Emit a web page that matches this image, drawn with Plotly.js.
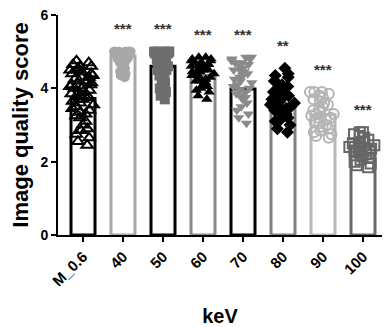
<!DOCTYPE html>
<html>
<head>
<meta charset="utf-8">
<script src="https://cdn.plot.ly/plotly-3.0.1.min.js"></script>
<style>html,body{margin:0;padding:0;background:#fff;}#chart{width:384px;height:327px;}</style>
</head>
<body>
<div id="chart"></div>
<script>
// ---- data ----
const categories = ['M_0.6', '40', '50', '60', '70', '80', '90', '100'];
const barMeans = [3.72, 4.88, 4.6, 4.35, 3.98, 3.58, 3.28, 2.42];
const sigLabels = ['', '***', '***', '***', '***', '**', '***', '***'];

const ptsM06 = [4.75,4.7,4.65,4.6,4.6,4.55,4.5,4.5,4.45,4.4,4.4,4.35,4.3,4.3,4.25,4.2,4.2,4.15,4.1,4.1,4.05,4.0,4.0,3.95,3.9,3.9,3.85,3.8,3.8,3.75,3.7,3.7,3.65,3.6,3.55,3.5,3.45,3.4,3.35,3.3,3.25,3.2,3.1,3.0,2.9,2.85,2.75,2.65,2.55,2.45];
const pts40 = [5.0,5.0,5.0,5.0,5.0,5.0,5.0,5.0,4.97,4.97,4.95,4.95,4.93,4.93,4.9,4.9,4.9,4.88,4.87,4.85,4.85,4.83,4.8,4.8,4.78,4.75,4.72,4.7,4.68,4.65,4.6,4.55,4.5,4.45,4.4,4.35,4.3];
const pts50 = [5.0,5.0,5.0,5.0,5.0,5.0,4.95,4.95,4.9,4.9,4.9,4.85,4.85,4.8,4.8,4.75,4.75,4.7,4.7,4.65,4.6,4.6,4.55,4.5,4.5,4.45,4.4,4.35,4.3,4.25,4.2,4.15,4.1,4.0,3.9,3.8,3.7];
const pts60 = [4.85,4.85,4.8,4.8,4.75,4.75,4.7,4.7,4.65,4.65,4.6,4.6,4.55,4.55,4.5,4.5,4.5,4.45,4.45,4.4,4.4,4.35,4.3,4.3,4.25,4.2,4.2,4.15,4.1,4.05,4.0,3.95,3.9,3.8,3.7];
const pts70 = [4.85,4.85,4.8,4.8,4.75,4.7,4.7,4.65,4.6,4.55,4.5,4.5,4.45,4.4,4.35,4.3,4.25,4.2,4.15,4.1,4.05,4.0,3.95,3.9,3.85,3.8,3.75,3.7,3.6,3.5,3.4,3.3,3.2,3.05];
const pts80 = [4.55,4.4,4.35,4.3,4.2,4.15,4.1,4.05,4.0,3.95,3.9,3.85,3.8,3.8,3.75,3.7,3.7,3.65,3.6,3.6,3.55,3.5,3.5,3.45,3.4,3.35,3.3,3.25,3.2,3.15,3.1,3.0,2.9,2.8];
const pts90 = [3.9,3.9,3.9,3.85,3.8,3.75,3.7,3.65,3.6,3.55,3.5,3.45,3.4,3.35,3.3,3.3,3.25,3.2,3.2,3.15,3.1,3.05,3.0,2.95,2.9,2.85,2.8,2.75,2.7,2.65];
const pts100 = [2.8,2.8,2.75,2.7,2.65,2.6,2.55,2.5,2.5,2.45,2.45,2.4,2.4,2.35,2.35,2.3,2.3,2.25,2.2,2.15,2.1,2.05,2.0,1.95,1.9,1.85];

// ---- styling ----
const points = [ptsM06, pts40, pts50, pts60, pts70, pts80, pts90, pts100];
const barLineColors = ['#000000','#a8a8a8','#000000','#8a8a8a','#000000','#808080','#b8b8b8','#686868'];
const markerColors = ['#000000','#a8a8a8','#6e6e6e','#000000','#8a8a8a','#000000','#b4b4b4','#666666'];
const markerSymbols = ['triangle-up-open','circle','square','triangle-up','triangle-down','diamond','circle-open','square-open'];

const FONT = 'Liberation Sans, Arial, sans-serif';

const traces = [{
  type: 'bar',
  x: categories,
  y: barMeans,
  width: 0.6,
  marker: {color: '#ffffff', line: {color: barLineColors, width: 3}},
  hoverinfo: 'skip'
}];

points.forEach((vals, i) => {
  traces.push({
    type: 'box',
    x: vals.map(() => categories[i]),
    y: vals,
    boxpoints: 'all',
    jitter: 1,
    pointpos: 0,
    width: 0.7,
    fillcolor: 'rgba(0,0,0,0)',
    line: {width: 0, color: 'rgba(0,0,0,0)'},
    whiskerwidth: 0,
    marker: {
      symbol: markerSymbols[i],
      color: markerColors[i],
      size: 10,
      line: {width: markerSymbols[i].endsWith('open') ? 2 : 0, color: markerColors[i]}
    },
    hoverinfo: 'skip'
  });
});

const annotations = [];
categories.forEach((c, i) => {
  if (!sigLabels[i]) return;
  annotations.push({
    x: i, y: Math.max(...points[i]) + 0.62,
    xref: 'x', yref: 'y',
    text: sigLabels[i], showarrow: false,
    font: {family: FONT, size: 15, weight: 'bold', color: '#333'},
    xanchor: 'center', yanchor: 'middle'
  });
});

const layout = {
  width: 384, height: 327,
  margin: {l: 58, r: 2, t: 15, b: 92},
  showlegend: false,
  plot_bgcolor: '#fff', paper_bgcolor: '#fff',
  boxmode: 'overlay',
  font: {family: FONT, color: '#000'},
  xaxis: {
    type: 'category',
    range: [-0.625, 7.475],
    showline: true, linewidth: 2, linecolor: '#000',
    ticks: 'outside', ticklen: 5, tickwidth: 2, tickcolor: '#000',
    tickangle: -45,
    tickfont: {family: FONT, size: 15, weight: 'bold', color: '#000'},
    showgrid: false, zeroline: false,
    title: {text: 'keV', font: {family: FONT, size: 20, weight: 'bold', color: '#000'}, standoff: 22}
  },
  yaxis: {
    range: [0, 6], dtick: 2,
    showline: true, linewidth: 2, linecolor: '#000',
    ticks: 'outside', ticklen: 5, tickwidth: 2, tickcolor: '#000',
    tickfont: {family: FONT, size: 14, weight: 'bold', color: '#000'},
    showgrid: false, zeroline: false,
    title: {text: 'Image quality score', font: {family: FONT, size: 22, weight: 'bold', color: '#000'}, standoff: 6}
  },
  annotations: annotations
};

Plotly.newPlot('chart', traces, layout, {displayModeBar: false, staticPlot: true});
</script>
</body>
</html>
